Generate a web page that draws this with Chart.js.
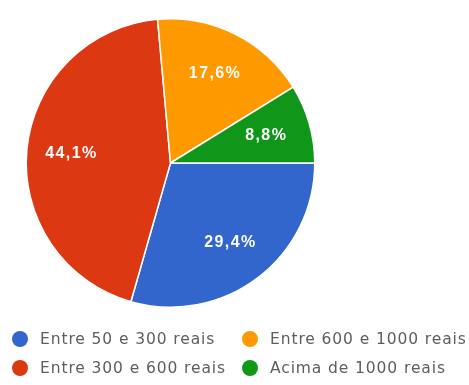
<!DOCTYPE html>
<html>
<head>
<meta charset="utf-8">
<script src="https://cdn.jsdelivr.net/npm/chart.js@4"></script>
<style>
  html, body { margin: 0; padding: 0; background: #fff; }
  #wrap { position: relative; width: 469px; height: 385px; filter: blur(0.4px); }
  #pie { position: absolute; left: 0; top: 0; }
  .legend-item { position: absolute; display: flex; align-items: center; font-family: "DejaVu Sans", Verdana, sans-serif; font-size: 15.5px; letter-spacing: 0.9px; color: #5e5e5e; white-space: nowrap; }
  .legend-item span.dot { width: 16px; height: 16px; border-radius: 50%; margin-right: 12px; display: inline-block; }
</style>
</head>
<body>
<div id="wrap">
  <canvas id="pie" width="469" height="385"></canvas>
</div>
<script>
const categories = ['Entre 50 e 300 reais', 'Entre 300 e 600 reais', 'Entre 600 e 1000 reais', 'Acima de 1000 reais'];
const percentages = [29.4, 44.1, 17.6, 8.8];
const sliceColors = ['#3366cc', '#dc3912', '#ff9900', '#109618'];

// legend slots (column-major: blue/red on the left, orange/green on the right)
const legendSlots = [
  { left: 12, top: 330 },
  { left: 12, top: 359 },
  { left: 242, top: 330 },
  { left: 242, top: 359 }
];

const wrap = document.getElementById('wrap');
categories.forEach((name, i) => {
  const item = document.createElement('div');
  item.className = 'legend-item';
  item.style.left = legendSlots[i].left + 'px';
  item.style.top = legendSlots[i].top + 'px';
  item.innerHTML = `<span class="dot" style="background:${sliceColors[i]}"></span>${name}`;
  wrap.appendChild(item);
});

// percentage text inside each slice
const sliceLabels = {
  id: 'sliceLabels',
  afterDatasetsDraw(chart) {
    const ctx = chart.ctx;
    const meta = chart.getDatasetMeta(0);
    ctx.save();
    ctx.fillStyle = '#fdfdfd';
    ctx.font = 'bold 16px "Liberation Sans", Arial, sans-serif';
    ctx.letterSpacing = '1.4px';
    ctx.textAlign = 'center';
    ctx.textBaseline = 'middle';
    meta.data.forEach((arc, i) => {
      const mid = (arc.startAngle + arc.endAngle) / 2;
      const r = arc.outerRadius * 0.69;
      const x = arc.x + Math.cos(mid) * r;
      const y = arc.y + Math.sin(mid) * r;
      ctx.fillText(percentages[i].toFixed(1).replace('.', ',') + '%', x, y);
    });
    ctx.restore();
  }
};

new Chart(document.getElementById('pie'), {
  type: 'pie',
  data: {
    labels: categories,
    datasets: [{
      data: percentages,
      backgroundColor: sliceColors,
      borderColor: '#fff',
      borderWidth: 1.5
    }]
  },
  options: {
    responsive: false,
    animation: false,
    rotation: 90,
    layout: { padding: { left: 25, top: 18, right: 153, bottom: 77 } },
    plugins: {
      legend: { display: false },
      tooltip: { enabled: false }
    }
  },
  plugins: [sliceLabels]
});
</script>
</body>
</html>
